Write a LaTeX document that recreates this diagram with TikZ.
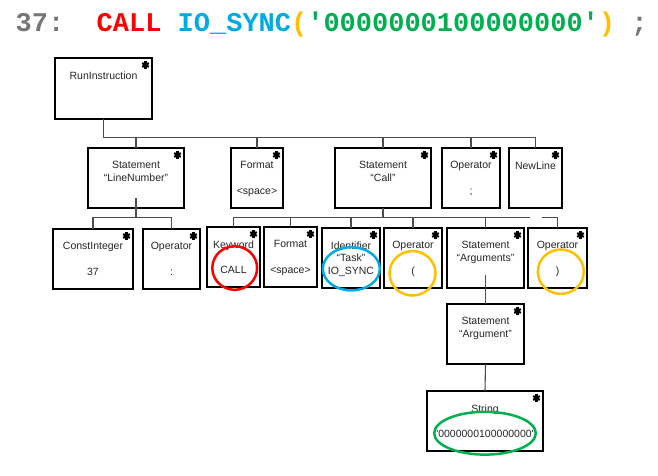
\documentclass[tikz,border=0pt]{standalone}
\usepackage{fontspec}
\setmainfont{Liberation Sans}
\newfontfamily\titlefont{Liberation Mono}[Ligatures=ResetAll]
\definecolor{tgray}{RGB}{118,118,118}
\definecolor{tred}{RGB}{255,0,0}
\definecolor{tblue}{RGB}{0,170,230}
\definecolor{torange}{RGB}{255,192,0}
\definecolor{tgreen}{RGB}{0,176,80}
\tikzset{
  box/.style={draw=black, line width=1.2pt, rectangle, inner sep=0pt, outer sep=0pt, anchor=north west},
  txt/.style={inner sep=0pt, anchor=north, align=center, text=black!85, font=\fontsize{10.5}{12.8}\selectfont},
  conn/.style={draw=black!70, line width=1.1pt},
  ring/.style={line width=2.5pt},
  pics/ast/.style={code={
    \foreach \a in {90,30,150}{\draw[line width=2.1pt] (\a:3.8pt) -- (\a+180:3.8pt);}
  }}
}
\newcommand\mybox[6]{%
  \node[box, minimum width=#4-#2, minimum height=#5-#3] (#1) at (#2,#3) {};
  \node[txt] (#1t) at ([yshift=-13.3pt]#1.north) {#6};
  \pic at ([xshift=-6.5pt,yshift=-7pt]#1.north east) {ast};
}
\begin{document}
\begin{tikzpicture}[x=1pt,y=-1pt]
\useasboundingbox (0,0) rectangle (658,476);
\fill[white] (0,0) rectangle (658,476);
% title line
\node[anchor=base west, inner sep=0pt, font=\titlefont\bfseries\fontsize{27}{27}\selectfont] (title) at (15.5,32)
 {{\color{tgray}37:~~}{\color{tred}CALL}~{\color{tblue}IO\_SYNC}{\color{torange}(}{\color{tgreen}\textquotesingle0000000100000000\textquotesingle}{\color{torange})}~{\color{tgray};}};
% boxes
\mybox{run}{55}{58}{152}{119}{RunInstruction}
\mybox{lnum}{88}{148}{184}{208}{Statement\\“LineNumber”}
\mybox{fmta}{231}{148}{283}{208}{Format\\\mbox{}\\<space>}
\mybox{call}{335}{148}{431}{208}{Statement\\“Call”}
\mybox{opsemi}{442}{148}{500}{208}{Operator\\\mbox{}\\;}
\mybox{newl}{509}{148}{562}{208}{NewLine}
\mybox{cint}{53}{229}{133}{289}{ConstInteger\\\mbox{}\\37}
\mybox{opcol}{143}{229}{200}{289}{Operator\\\mbox{}\\:}
\mybox{kw}{207}{227}{260}{287}{Keyword\\\mbox{}\\CALL}
\mybox{fmtb}{264}{227}{317}{287}{Format\\\mbox{}\\<space>}
\mybox{ident}{322}{228}{380}{288}{Identifier\\“Task”\\IO\_SYNC}
\mybox{oplp}{384}{228}{442}{288}{Operator\\\mbox{}\\(}
\mybox{args}{447}{228}{524}{288}{Statement\\“Arguments”}
\mybox{oprp}{528}{228}{587}{288}{Operator\\\mbox{}\\)}
\mybox{arg}{447}{304}{524}{364}{Statement\\“Argument”}
\mybox{str}{427}{391}{543}{451}{String\\\mbox{}\\\textquotesingle0000000100000000\textquotesingle}
% connectors
\coordinate (busa) at (0,137.5);
\coordinate (busb) at (0,217.3);
\foreach \c in {lnum,fmta,call,opsemi,newl}
  \draw[conn] (run.south) -- (run.south |- busa) -| (\c.north);
\coordinate (lnumin) at ([yshift=10pt]lnum.south);
\foreach \c in {cint,opcol}
  \draw[conn] (lnumin) -- (lnumin |- busb) -| (\c.north);
\foreach \c in {kw,fmtb,ident,oplp,args}
  \draw[conn] (call.south) -- (call.south |- busb) -| (\c.north);
\coordinate (gapl) at (530,0);
\coordinate (gapr) at (541.7,0);
\draw[conn] (call.south) -- (call.south |- busb) -- (gapl |- busb);
\draw[conn] (gapr |- busb) -| (oprp.north);
\coordinate (argsin) at ([yshift=13pt]args.south);
\draw[conn] (argsin) -- (arg.north);
\draw[conn] (arg.south) -- (str.north);
% highlight rings
\draw[ring, tred] (234.7,268) ellipse [x radius=22.4pt, y radius=21.8pt];
\draw[ring, tblue] (351.3,268.8) ellipse [x radius=28.5pt, y radius=21.6pt];
\draw[ring, torange] (412.5,273.3) ellipse [x radius=23pt, y radius=22.2pt];
\draw[ring, torange] (560.8,271.7) ellipse [x radius=23pt, y radius=22.2pt];
\draw[ring, tgreen] (485,433.2) ellipse [x radius=50.8pt, y radius=21.4pt];
\end{tikzpicture}
\end{document}
